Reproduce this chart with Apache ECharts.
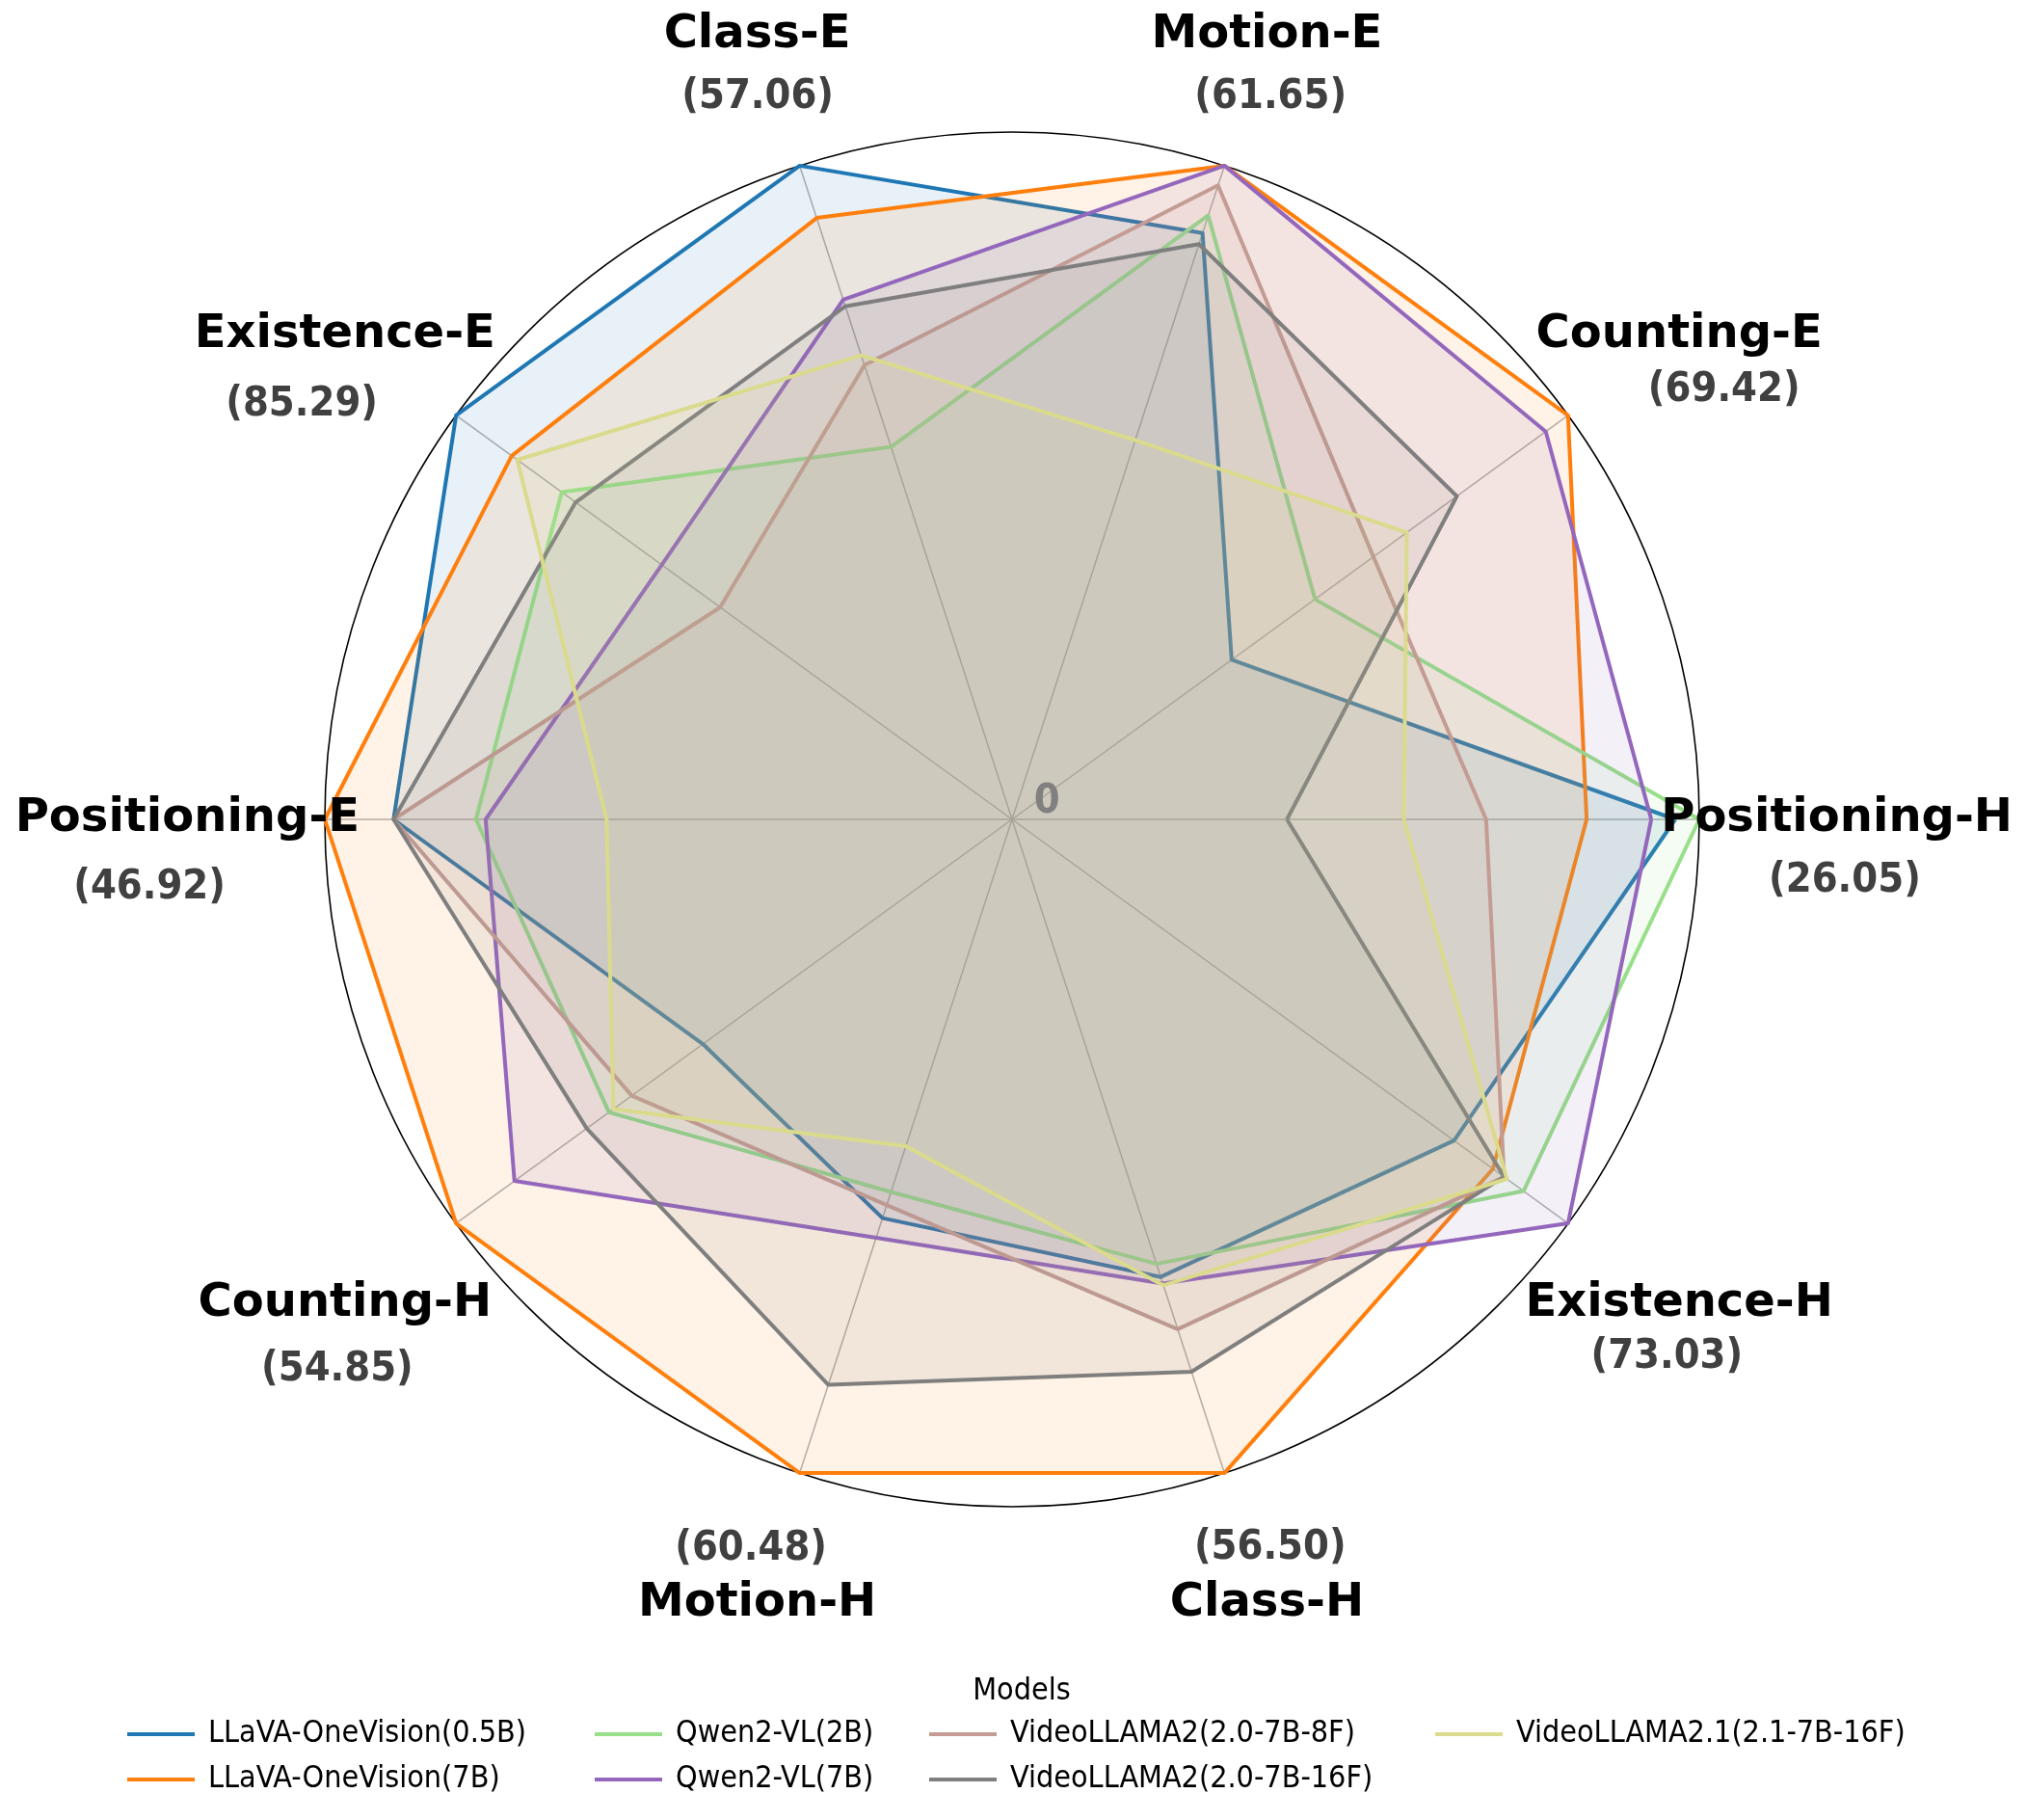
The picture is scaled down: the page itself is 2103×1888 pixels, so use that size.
<!DOCTYPE html>
<html>
<head>
<meta charset="utf-8">
<script src="https://cdn.jsdelivr.net/npm/echarts@6/dist/echarts.min.js"></script>
<style>html,body{margin:0;padding:0;background:#fff}#chart{width:2103px;height:1888px}</style>
</head>
<body>
<div id="chart"></div>
<script>
// ---- data ----
const categories = ['Positioning-H','Counting-E','Motion-E','Class-E','Existence-E','Positioning-E','Counting-H','Motion-H','Class-H','Existence-H'];
const axisMax = [26.05, 69.42, 61.65, 57.06, 85.29, 46.92, 54.85, 60.48, 56.50, 73.03];
const models = ['LLaVA-OneVision(0.5B)','LLaVA-OneVision(7B)','Qwen2-VL(2B)','Qwen2-VL(7B)','VideoLLAMA2(2.0-7B-8F)','VideoLLAMA2(2.0-7B-16F)','VideoLLAMA2.1(2.1-7B-16F)'];
const llavaOV05B   = [25.14, 27.42, 55.30, 57.06, 85.29, 42.23, 30.50, 36.89, 39.55, 58.06];
const llavaOV7B    = [21.78, 69.42, 61.65, 52.50, 76.76, 46.92, 54.85, 60.48, 56.50, 63.17];
const qwen2VL2B    = [26.05, 37.83, 56.96, 32.52, 69.08, 36.60, 39.77, 34.47, 38.42, 67.19];
const qwen2VL7B    = [24.23, 66.64, 61.65, 45.36, 53.73, 35.94, 49.09, 38.71, 40.12, 73.03];
const videoLlama2_8F  = [17.97, 45.12, 59.80, 39.66, 44.78, 42.23, 37.52, 35.68, 44.07, 64.63];
const videoLlama2_16F = [10.42, 55.54, 54.25, 44.79, 66.95, 42.23, 41.96, 52.32, 47.74, 64.63];
const videoLlama21_16F = [14.85, 49.29, 35.76, 40.51, 75.91, 27.68, 39.33, 30.24, 40.28, 65.00];
const seriesValues = [llavaOV05B, llavaOV7B, qwen2VL2B, qwen2VL7B, videoLlama2_8F, videoLlama2_16F, videoLlama21_16F];

// ---- styles / layout ----
const colors = ['#1f77b4','#ff7f0e','#98df8a','#9467bd','#c49c94','#7f7f7f','#dbdb8d'];
const CX = 1050, CY = 850, R = 713, RMAX = 1.3;
const axisAngles = categories.map((c, i) => i * 360 / categories.length);
const nameRadius = 1.2;
// value-label placement [radius fraction, angle deg]
const valueLabelPos = [[1.215,355.8],[1.21,31.1],[1.116,70.3],[1.114,109.4],[1.197,149.7],[1.259,184.5],[1.267,219.2],[1.127,250.3],[1.125,289.5],[1.233,320.6]];
const condensed = "'DejaVu Sans Condensed', 'Liberation Sans Narrow', 'Noto Sans'";

const chart = echarts.init(document.getElementById('chart'), null, {renderer: 'canvas'});

const radarData = models.map((m, i) => ({
  name: m,
  value: seriesValues[i],
  symbol: 'none',
  itemStyle: {color: colors[i]},
  lineStyle: {color: colors[i], width: 4},
  areaStyle: {color: colors[i], opacity: 0.1}
}));

const legendBase = {
  orient: 'vertical', top: 1780, padding: 0, icon: 'rect', itemWidth: 70, itemHeight: 4, itemGap: 9,
  textStyle: {fontFamily: condensed, fontSize: 32, color: '#000', padding: [0,0,0,9], lineHeight: 38}
};

const labelItem = {color: 'rgba(0,0,0,0)', opacity: 1};

const option = {
  backgroundColor: '#fff',
  animation: false,
  title: {text: 'Models', left: 1055, top: 1734, textAlign: 'center',
    textStyle: {fontFamily: condensed, fontSize: 32, fontWeight: 'normal', color: '#000'}},
  legend: [
    Object.assign({}, legendBase, {left: 132, data: [models[0], models[1]]}),
    Object.assign({}, legendBase, {left: 617, data: [models[2], models[3]]}),
    Object.assign({}, legendBase, {left: 964, data: [models[4], models[5]]}),
    Object.assign({}, legendBase, {left: 1489, data: [models[6]]})
  ],
  radar: {
    center: [CX, CY], radius: R, startAngle: 0, shape: 'circle', splitNumber: 1,
    indicator: categories.map((c, i) => ({name: c, min: 0, max: axisMax[i]})),
    axisName: {show: false},
    axisLine: {lineStyle: {color: '#b0b0b0', width: 1.5}},
    splitLine: {lineStyle: {color: '#000', width: 1.6}},
    splitArea: {show: false},
    axisTick: {show: false}, axisLabel: {show: false}
  },
  polar: {center: [CX, CY], radius: R * RMAX},
  angleAxis: {type: 'value', min: 0, max: 360, startAngle: 0, clockwise: false, show: false},
  radiusAxis: {type: 'value', min: 0, max: RMAX, show: false},
  series: [
    {type: 'radar', data: radarData, z: 2},
    {type: 'scatter', coordinateSystem: 'polar', symbolSize: 1, itemStyle: labelItem, silent: true, z: 5,
     data: categories.map((c, i) => ({name: c, value: [nameRadius, axisAngles[i]]})),
     label: {show: true, position: 'inside', formatter: p => p.name,
       fontFamily: 'DejaVu Sans', fontWeight: 'bold', fontSize: 48, color: '#000'}},
    {type: 'scatter', coordinateSystem: 'polar', symbolSize: 1, itemStyle: labelItem, silent: true, z: 5,
     data: axisMax.map((v, i) => ({name: '(' + v.toFixed(2) + ')', value: valueLabelPos[i]})),
     label: {show: true, position: 'inside', formatter: p => p.name,
       fontFamily: condensed, fontWeight: 'bold', fontSize: 43, color: '#404040'}},
    {type: 'scatter', coordinateSystem: 'polar', symbolSize: 1, itemStyle: labelItem, silent: true, z: 5,
     data: [{name: '0', value: [0.057, 27]}],
     label: {show: true, position: 'inside', formatter: p => p.name,
       fontFamily: condensed, fontWeight: 'bold', fontSize: 43, color: '#808080'}}
  ]
};
chart.setOption(option);
</script>
</body>
</html>
